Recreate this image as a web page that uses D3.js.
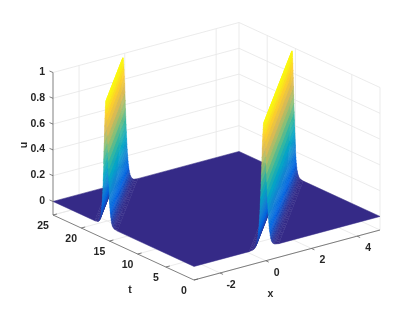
<!DOCTYPE html>
<html>
<head>
<meta charset="utf-8">
<script src="https://cdnjs.cloudflare.com/ajax/libs/d3/7.8.5/d3.min.js"></script>
<style>
  html, body { margin: 0; padding: 0; background: #fff; }
  svg { filter: blur(0.4px); }
  text { font-family: "Liberation Sans", Arial, sans-serif; font-weight: bold; fill: #262626; font-size: 10.5px; }
</style>
</head>
<body>
<div id="chart"></div>
<script>
const xTicks = [-2, 0, 2, 4];
const tTicks = [0, 5, 10, 15, 20, 25];
const uTicks = [0, 0.2, 0.4, 0.6, 0.8, 1];
const uTickLabels = ["0", "0.2", "0.4", "0.6", "0.8", "1"];
// the reference has no wall line at x = 2 or t = 10
const xWallTicks = [-2, 0, 4];
const tWallTicks = [0, 5, 15, 20, 25];

// the pulse leaves at x = 5 around t = 15 and comes back in at x = -3.14
const rowsA = [0, 20];
const crestA = [-0.08, 6.43];
const rowsB = [10, 25];
const crestB = [-4.96, -0.08];

// cross section of the pulse, distance from crest -> height
const offsets = [-0.65, -0.5, -0.45, -0.4, -0.375, -0.35, -0.325, -0.3, -0.275, -0.25, -0.2375, -0.225, -0.2125, -0.2, -0.1875, -0.175, -0.1625, -0.15, -0.1375, -0.125, -0.1125, -0.1, -0.0875, -0.075, -0.0625, -0.05, -0.0375, -0.025, -0.0125, 0,
  0.0125, 0.025, 0.0375, 0.05, 0.0625, 0.075, 0.0875, 0.1, 0.1125, 0.125, 0.1375, 0.15, 0.1625, 0.175, 0.1875, 0.2, 0.2125, 0.225, 0.2375, 0.25, 0.275, 0.3, 0.325, 0.35, 0.375, 0.4, 0.45, 0.5, 0.65];
const heights = [0, 0.004, 0.007, 0.015, 0.021, 0.029, 0.041, 0.058, 0.082, 0.114, 0.134, 0.157, 0.185, 0.216, 0.252, 0.292, 0.338, 0.389, 0.445, 0.505, 0.57, 0.635, 0.7, 0.768, 0.825, 0.875, 0.915, 0.95, 0.965, 0.97,
  0.965, 0.95, 0.915, 0.875, 0.825, 0.768, 0.7, 0.635, 0.57, 0.505, 0.445, 0.389, 0.338, 0.292, 0.252, 0.216, 0.185, 0.157, 0.134, 0.114, 0.082, 0.058, 0.041, 0.029, 0.021, 0.015, 0.007, 0.004, 0];

const parula = ["#352a87", "#0363e1", "#1485d4", "#06a7c6", "#38b99e", "#92bf73", "#d9ba56", "#fcce2e", "#f9fb0e"];

const width = 419, height = 314;
const xMin = -3.14, xMax = 5, tMin = 0, tMax = 25, uMin = -0.105, uMax = 1;
const originX = 194, originY = 280;

const xToH = d3.scaleLinear().domain([xMin, xMax]).range([0, 186]);
const xToV = d3.scaleLinear().domain([xMin, xMax]).range([0, -50]);
const tToH = d3.scaleLinear().domain([tMin, tMax]).range([0, -141]);
const tToV = d3.scaleLinear().domain([tMin, tMax]).range([0, -65]);
const uToV = d3.scaleLinear().domain([uMin, uMax]).range([0, -142.5]);
const color = d3.scaleLinear()
  .domain(parula.map((c, i) => d3.max(heights) * i / (parula.length - 1)))
  .range(parula);

const sx = (x, t) => originX + xToH(x) + tToH(t);
const sy = (x, t, u) => originY + xToV(x) + tToV(t) + uToV(u);
const pt = (x, t, u) => [sx(x, t), sy(x, t, u)];
const lineOf = (pts) => "M" + pts.map(p => p.join(",")).join("L");

const svg = d3.select("#chart").append("svg").attr("width", width).attr("height", height).style("display", "block");

// grid on the back walls and on the floor
const gridG = svg.append("g").attr("fill", "none").attr("stroke", "#e6e6e6").attr("stroke-width", 0.8);
uTicks.forEach(u => {
  gridG.append("path").attr("d", lineOf([pt(xMin, tMax, u), pt(xMax, tMax, u), pt(xMax, tMin, u)]));
});
xTicks.forEach(x => {
  gridG.append("path").attr("d", lineOf([pt(x, tMin, uMin), pt(x, tMax, uMin)]));
});
xWallTicks.forEach(x => {
  gridG.append("path").attr("d", lineOf([pt(x, tMax, uMin), pt(x, tMax, uMax)]));
});
tTicks.forEach(t => {
  gridG.append("path").attr("d", lineOf([pt(xMin, t, uMin), pt(xMax, t, uMin)]));
});
tWallTicks.forEach(t => {
  gridG.append("path").attr("d", lineOf([pt(xMax, t, uMin), pt(xMax, t, uMax)]));
});
gridG.append("path").attr("d", lineOf([pt(xMin, tMax, uMin), pt(xMax, tMax, uMin), pt(xMax, tMin, uMin)]));

// keep only the part of a polygon inside xMin..xMax
function clipSide(poly, inside, bound) {
  const out = [];
  poly.forEach((p, i) => {
    const q = poly[(i + 1) % poly.length];
    if (inside(p)) out.push(p);
    if (inside(p) !== inside(q)) {
      const f = (bound - p.x) / (q.x - p.x);
      out.push({ x: bound, t: p.t + f * (q.t - p.t), u: p.u + f * (q.u - p.u) });
    }
  });
  return out;
}
function clipX(poly) {
  const a = clipSide(poly, p => p.x <= xMax, xMax);
  return a.length ? clipSide(a, p => p.x >= xMin, xMin) : a;
}

const edge = offsets[offsets.length - 1];
const flat = (x, t) => ({ x: x, t: t, u: 0 });
const last = (arr) => arr[arr.length - 1];

// floor pieces around the two strips of the pulse
const floorPieces = [
  [flat(xMin, tMin)]
    .concat(rowsA.map((t, i) => flat(crestA[i] - edge, t)))
    .concat([flat(last(crestA) - edge, tMax), flat(crestB[1] + edge, tMax)])
    .concat(rowsB.map((t, i) => flat(crestB[i] + edge, t)).reverse()),
  rowsA.map((t, i) => flat(crestA[i] + edge, t)).concat([flat(last(crestA) + edge, tMin)]),
  rowsB.map((t, i) => flat(crestB[i] - edge, t)).concat([flat(crestB[0] - edge, tMax)])
];
const surfG = svg.append("g");
floorPieces.forEach(poly => {
  const c = clipX(poly);
  surfG.append("path")
    .attr("d", lineOf(c.map(p => pt(p.x, p.t, p.u))) + "Z")
    .attr("fill", parula[0]).attr("stroke", parula[0]).attr("stroke-width", 0.5);
});

// each strip is cut into short cells so they can be drawn far to near
const cellLength = 0.5;
const cells = [];
[[rowsA, crestA], [rowsB, crestB]].forEach(([rows, crest]) => {
  const crestAt = d3.scaleLinear().domain(rows).range(crest);
  d3.range(rows[0], rows[1], cellLength).forEach(t0 => {
    const t1 = t0 + cellLength;
    d3.pairs(d3.range(offsets.length)).forEach(([j0, j1]) => {
      const poly = clipX([
        { x: crestAt(t0) + offsets[j0], t: t0, u: heights[j0] },
        { x: crestAt(t0) + offsets[j1], t: t0, u: heights[j1] },
        { x: crestAt(t1) + offsets[j1], t: t1, u: heights[j1] },
        { x: crestAt(t1) + offsets[j0], t: t1, u: heights[j0] }
      ]);
      if (poly.length < 3) return;
      cells.push({
        poly: poly,
        level: (heights[j0] + heights[j1]) / 2,
        depth: d3.mean(poly, p => sy(p.x, p.t, 0))
      });
    });
  });
});
cells.sort((a, b) => a.depth - b.depth);
surfG.selectAll("path.cell")
  .data(cells)
  .enter()
  .append("path")
  .attr("class", "cell")
  .attr("d", d => lineOf(d.poly.map(p => pt(p.x, p.t, p.u))) + "Z")
  .attr("fill", d => color(d.level))
  .attr("stroke", d => color(d.level))
  .attr("stroke-width", 0.4);

// axes
const axisG = svg.append("g").attr("fill", "none").attr("stroke", "#606060").attr("stroke-width", 0.8);
axisG.append("path").attr("d", lineOf([pt(xMin, tMax, uMax), pt(xMin, tMax, uMin), pt(xMin, tMin, uMin), pt(xMax, tMin, uMin)]));
uTicks.forEach(u => {
  const p = pt(xMin, tMax, u);
  axisG.append("path").attr("d", lineOf([p, [p[0] - 3.5, p[1] - 1.5]]));
});
xTicks.forEach(x => {
  const p = pt(x, tMin, uMin);
  axisG.append("path").attr("d", lineOf([p, [p[0] + 3, p[1] + 1.4]]));
});
tTicks.forEach(t => {
  const p = pt(xMin, t, uMin);
  axisG.append("path").attr("d", lineOf([p, [p[0] + 4, p[1] - 1]]));
});

const label = (txt, x, y, anchor) => svg.append("text")
  .attr("x", x).attr("y", y).attr("text-anchor", anchor || "middle").attr("dominant-baseline", "central").text(txt);

uTicks.forEach((u, i) => {
  const p = pt(xMin, tMax, u);
  label(uTickLabels[i], p[0] - 8, p[1] - 1.5, "end");
});
xTicks.forEach(x => {
  const p = pt(x, tMin, uMin);
  label(x, p[0] + 11, p[1] + 11);
});
tTicks.forEach(t => {
  const p = pt(xMin, t, uMin);
  label(t, p[0] - 10, p[1] + 9.5);
});
label("x", 270.5, 293);
label("t", 130, 289);
label("u", 23, 145).attr("transform", "rotate(-90 23 145)");
</script>
</body>
</html>
